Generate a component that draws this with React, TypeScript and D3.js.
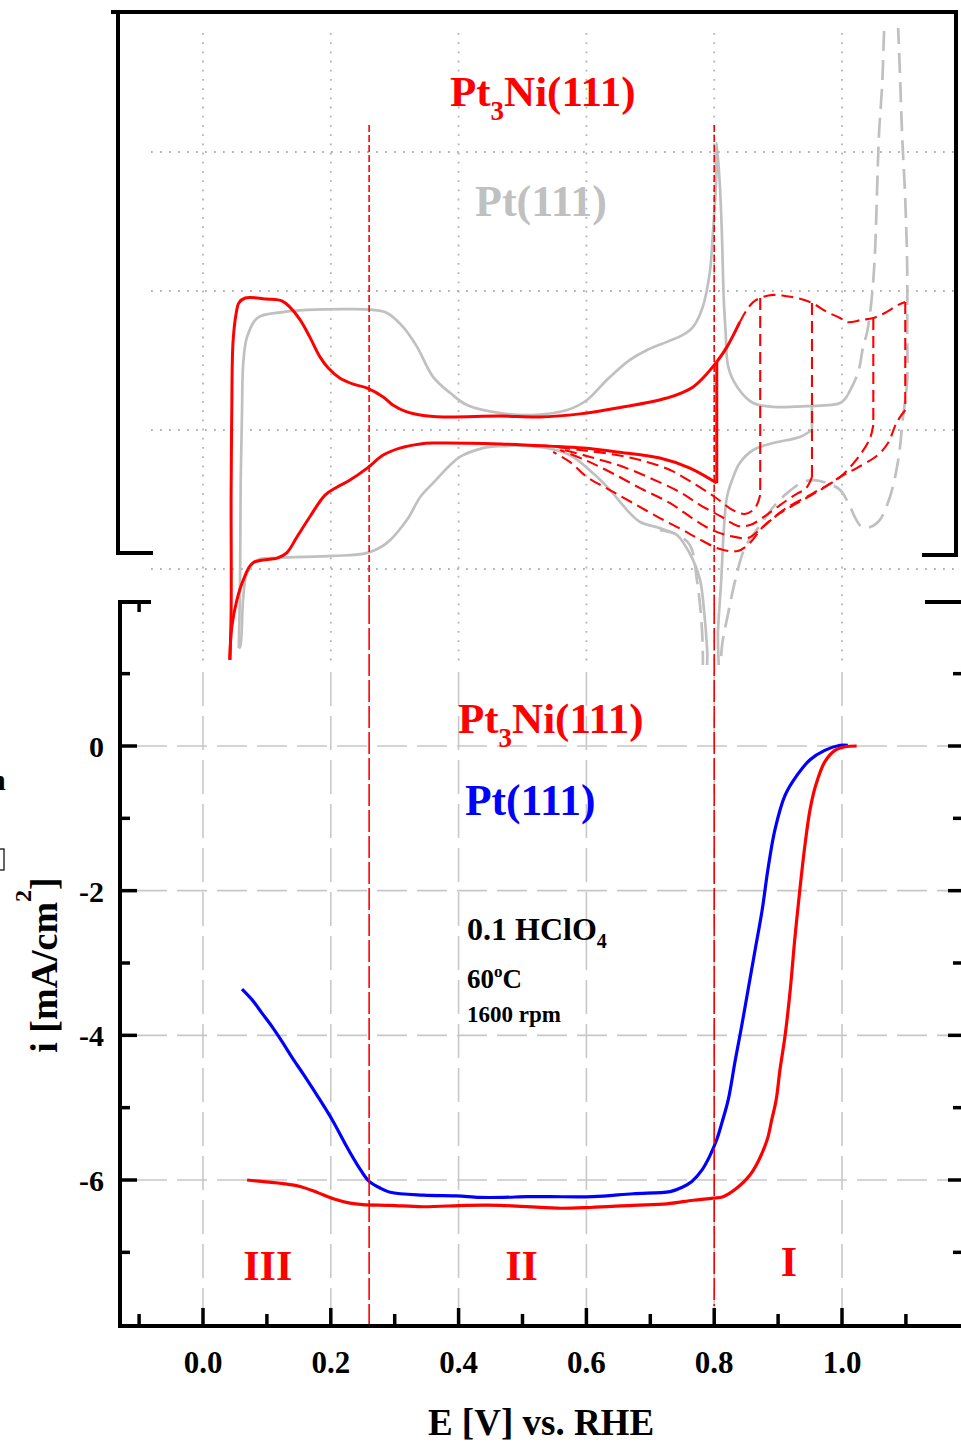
import React from 'react';
import * as d3 from 'd3';

type P = [number, number];

// ---------- axis / grid values ----------
const xMajor = [0, 0.2, 0.4, 0.6, 0.8, 1.0];
const xMinor = [-0.1, 0.1, 0.3, 0.5, 0.7, 0.9, 1.1];
const xTickLabels = ['0.0', '0.2', '0.4', '0.6', '0.8', '1.0'];
const yMajor = [0, -2, -4, -6];
const yMinor = [1, -1, -3, -5, -7];
const yTickLabels = ['0', '-2', '-4', '-6'];
const cvGrid = [100, 50, 0, -50];
const regionLines = [0.26, 0.8];
const regionLabels = ['III', 'II', 'I'];
const regionLabelE = [0.063, 0.473, 0.904];

// ---------- ORR polarisation curves (E [V], i [mA/cm2]) ----------
const ptORR: P[] = [
  [0.061, -3.36], [0.077, -3.51], [0.092, -3.69], [0.108, -3.88], [0.124, -4.09], [0.139, -4.30],
  [0.158, -4.55], [0.180, -4.85], [0.203, -5.18], [0.225, -5.54], [0.243, -5.81], [0.260, -6.02],
  [0.277, -6.11], [0.293, -6.17], [0.345, -6.21], [0.397, -6.22], [0.433, -6.24], [0.470, -6.24],
  [0.507, -6.23], [0.543, -6.23], [0.610, -6.23], [0.673, -6.19], [0.731, -6.16], [0.750, -6.10],
  [0.765, -6.02], [0.781, -5.86], [0.793, -5.67], [0.804, -5.44], [0.812, -5.21], [0.822, -4.89],
  [0.833, -4.34], [0.842, -3.92], [0.853, -3.37], [0.864, -2.82], [0.875, -2.27], [0.884, -1.71],
  [0.895, -1.16], [0.911, -0.68], [0.930, -0.40], [0.950, -0.19], [0.973, -0.06], [0.997, 0.01],
  [1.009, 0.01],
];
const pt3niORR: P[] = [
  [0.069, -6.00], [0.125, -6.05], [0.152, -6.09], [0.178, -6.17], [0.204, -6.26], [0.230, -6.32],
  [0.250, -6.34], [0.293, -6.35], [0.344, -6.37], [0.413, -6.35], [0.465, -6.35], [0.554, -6.39],
  [0.606, -6.38], [0.673, -6.35], [0.726, -6.33], [0.767, -6.28], [0.798, -6.25], [0.814, -6.23],
  [0.837, -6.10], [0.856, -5.93], [0.869, -5.74], [0.883, -5.44], [0.890, -5.17], [0.897, -4.89],
  [0.903, -4.47], [0.911, -4.00], [0.919, -3.37], [0.926, -2.68], [0.934, -1.99], [0.942, -1.37],
  [0.950, -0.88], [0.959, -0.54], [0.973, -0.22], [0.989, -0.06], [1.005, -0.01], [1.023, 0.00],
];

// ---------- cyclic voltammograms (E [V], j [a.u.]) ----------
const pt3niCvAnodic: P[] = [
  [0.042, -82.7], [0.044, -65.8], [0.044, -22.7], [0.045, 6.1], [0.047, 31.7], [0.052, 42.1],
  [0.056, 45.7], [0.066, 47.5], [0.100, 47.1], [0.124, 46.4], [0.136, 44.2], [0.152, 39.6],
  [0.167, 33.5], [0.183, 26.3], [0.196, 22.3], [0.214, 18.7], [0.235, 16.5], [0.257, 15.1],
  [0.282, 11.9], [0.297, 9.0], [0.319, 6.5], [0.340, 5.4], [0.376, 4.7], [0.465, 5.0],
  [0.527, 4.7], [0.590, 5.8], [0.648, 7.9], [0.726, 11.5], [0.767, 15.5], [0.804, 24.5],
];
const pt3niCvCathodic: P[] = [
  [0.804, -19.1], [0.762, -13.7], [0.715, -10.1], [0.648, -7.9], [0.595, -6.5], [0.543, -5.8],
  [0.465, -5.0], [0.360, -4.7], [0.340, -5.0], [0.308, -6.5], [0.282, -9.0], [0.257, -13.7],
  [0.230, -18.0], [0.210, -20.5], [0.191, -23.4], [0.167, -31.3], [0.147, -38.5], [0.131, -44.2],
  [0.117, -46.0], [0.078, -47.8], [0.063, -54.0], [0.053, -61.2], [0.045, -70.9], [0.042, -82.7],
];
const pt3niCvExt: P[] = [[0.804, 24.5], [0.820, 29.9], [0.840, 38.8]];
const pt3niCvDashAnodic: P[] = [
  [0.840, 38.8], [0.851, 43.2], [0.861, 46.0], [0.872, 47.5], [0.892, 48.6], [0.911, 48.2],
  [0.930, 47.5], [0.953, 45.7], [0.977, 42.4], [0.997, 40.3], [1.008, 38.8], [1.031, 39.6],
  [1.049, 40.3], [1.067, 42.1], [1.088, 45.0], [1.099, 46.0],
];
const pt3niCvDash1: P[] = [
  [0.872, 47.5], [0.872, -23.4], [0.864, -28.1], [0.848, -30.2], [0.829, -28.8], [0.801, -24.1],
  [0.767, -19.1], [0.731, -14.4], [0.684, -10.8], [0.637, -8.6], [0.590, -7.2], [0.551, -6.1],
];
const pt3niCvDash2: P[] = [
  [0.953, 45.7], [0.953, -16.9], [0.944, -20.9], [0.926, -23.4], [0.903, -27.0], [0.880, -30.9],
  [0.856, -34.2], [0.837, -34.5], [0.809, -30.9], [0.778, -27.0], [0.746, -22.3], [0.700, -17.3],
  [0.653, -12.9], [0.606, -9.7], [0.559, -6.8],
];
const pt3niCvDash3: P[] = [
  [1.049, 40.3], [1.049, 1.8], [1.044, -2.9], [1.028, -9.0], [0.997, -16.9], [0.955, -22.7],
  [0.908, -28.8], [0.876, -34.9], [0.853, -38.8], [0.825, -38.1], [0.797, -36.0], [0.770, -32.4],
  [0.731, -26.3], [0.684, -20.9], [0.637, -15.1], [0.598, -10.8], [0.559, -7.2],
];
const pt3niCvDash4: P[] = [
  [1.099, 46.0], [1.099, 7.2], [1.086, 2.9], [1.072, -4.7], [1.056, -9.0], [1.023, -13.7],
  [0.997, -16.9], [0.966, -21.6], [0.930, -26.3], [0.903, -29.9], [0.876, -34.9], [0.856, -40.6],
  [0.837, -43.5], [0.809, -42.8], [0.773, -38.8], [0.751, -36.0], [0.715, -31.7], [0.673, -26.3],
  [0.637, -21.6], [0.601, -16.9], [0.574, -11.5], [0.548, -7.9],
];
const ptCvAnodic: P[] = [
  [0.056, -78.4], [0.058, -54.0], [0.059, -18.0], [0.061, 6.1], [0.063, 24.1], [0.069, 33.5],
  [0.085, 40.3], [0.125, 42.4], [0.163, 43.2], [0.230, 43.5], [0.266, 43.2], [0.288, 42.1],
  [0.313, 37.1], [0.335, 29.9], [0.360, 19.1], [0.387, 13.3], [0.413, 9.0], [0.465, 6.1],
  [0.516, 5.4], [0.570, 7.2], [0.601, 10.8], [0.632, 18.0], [0.668, 25.2], [0.695, 28.8],
  [0.726, 31.7], [0.751, 34.2], [0.767, 37.1], [0.782, 44.2], [0.793, 56.5], [0.798, 70.9],
  [0.803, 89.9], [0.804, 103.2], [0.809, 87.4], [0.812, 70.9], [0.815, 46.8], [0.818, 34.9],
  [0.822, 22.7], [0.836, 15.5], [0.861, 9.7], [0.892, 8.3], [0.945, 8.6], [0.997, 9.7],
  [1.009, 12.6],
];
const ptCvCathodic: P[] = [
  [0.953, 8.6], [0.953, 0], [0.934, -2.5], [0.892, -4.7], [0.861, -7.2], [0.840, -11.9],
  [0.828, -18.0], [0.820, -24.1], [0.815, -36.0], [0.811, -54.0], [0.806, -71.9], [0.803, -97.1],
  [0.792, -97.1], [0.789, -79.1], [0.784, -64.7], [0.778, -54.0], [0.767, -46.8], [0.754, -41.4],
  [0.742, -37.8], [0.715, -35.3], [0.684, -33.1], [0.668, -29.9], [0.637, -21.6], [0.610, -15.5],
  [0.574, -9.0], [0.527, -6.1], [0.465, -5.8], [0.438, -6.5], [0.402, -9.7], [0.360, -19.1],
  [0.340, -24.1], [0.319, -32.4], [0.288, -40.6], [0.257, -44.2], [0.203, -45.3], [0.117, -46.0],
  [0.085, -46.8], [0.069, -51.4], [0.063, -60.1], [0.058, -78.1], [0.056, -78.4],
];
const ptCvDashed: P[] = [
  [1.009, 12.6], [1.025, 20.5], [1.033, 29.9], [1.039, 34.9], [1.044, 42.1], [1.049, 54.0],
  [1.052, 65.8], [1.055, 87.4], [1.058, 106.8], [1.063, 124.8], [1.066, 143.9], [1.069, 154.7],
  [1.085, 154.7], [1.088, 143.9], [1.094, 106.8], [1.099, 82.7], [1.102, 58.6], [1.102, 34.9],
  [1.102, 18.0], [1.095, 3.6], [1.088, -10.8], [1.075, -24.1], [1.059, -32.4], [1.044, -34.9],
  [1.031, -34.9], [1.020, -31.3], [1.013, -27.7], [0.997, -21.6], [0.977, -19.1], [0.955, -18.0],
  [0.939, -18.7], [0.914, -22.7], [0.895, -27.0], [0.872, -34.2], [0.848, -42.4], [0.833, -54.0],
  [0.822, -65.8], [0.812, -78.1], [0.809, -97.1],
];
const ptCvDashed2: P[] = [
  [0.782, -97.1], [0.782, -78.1], [0.779, -65.8], [0.773, -54.0], [0.762, -41.4], [0.740, -37.4],
  [0.715, -36.0],
];

// ---------- scales ----------
const x = d3.scaleLinear().domain([0, 1]).range([203, 842]);
const yOrr = d3.scaleLinear().domain([0, -6]).range([746, 1180]);
const yCv = d3.scaleLinear().domain([0, 100]).range([430, 152]);

const cvCurve = d3.line<P>().x((d) => x(d[0])).y((d) => yCv(d[1])).curve(d3.curveCatmullRom.alpha(0.5));
const cvStraight = d3.line<P>().x((d) => x(d[0])).y((d) => yCv(d[1]));
const orrLine = d3.line<P>().x((d) => x(d[0])).y((d) => yOrr(d[1])).curve(d3.curveCatmullRom.alpha(0.5));

// a potential reversal (vertical first step) followed by a smooth branch
const reversal = (d: P[]) => (cvStraight(d.slice(0, 2)) || '') + (cvCurve(d.slice(1)) || '');

const RED = '#ff0000';
const GREY = '#c0c0c0';
const BLUE = '#0000ff';
const FONT = '"Liberation Serif", "Times New Roman", serif';

export default function App() {
  const redDashes = [pt3niCvDash1, pt3niCvDash2, pt3niCvDash3, pt3niCvDash4];
  const redTurn: P[] = [pt3niCvAnodic[pt3niCvAnodic.length - 1], pt3niCvCathodic[0]];
  return (
    <svg
      width={961}
      height={1445}
      style={{ position: 'absolute', left: 0, top: 0, background: '#fff' }}
      fontFamily={FONT}
      fontWeight="bold"
    >
      <defs>
        <clipPath id="cvclip">
          <rect x={118} y={28} width={840} height={637} />
        </clipPath>
      </defs>
      <rect x={0} y={0} width={961} height={1445} fill="#fff" />

      {/* ---------- top panel dotted grid ---------- */}
      {xMajor.map((v) => (
        <line key={'tv' + v} x1={x(v)} x2={x(v)} y1={33} y2={665} stroke="#b4b4b4" strokeWidth={1.8} strokeDasharray="1.8,7.4" />
      ))}
      {cvGrid.map((v) => (
        <line key={'th' + v} x1={151} x2={961} y1={yCv(v)} y2={yCv(v)} stroke="#b4b4b4" strokeWidth={1.8} strokeDasharray="1.8,7.2" />
      ))}

      {/* ---------- bottom panel dashed grid ---------- */}
      {xMajor.map((v) => (
        <line key={'bv' + v} x1={x(v)} x2={x(v)} y1={672} y2={1310} stroke="#c8c8c8" strokeWidth={1.6} strokeDasharray="34,10" />
      ))}
      {yMajor.map((v) => (
        <line key={'bh' + v} x1={137} x2={961} y1={yOrr(v)} y2={yOrr(v)} stroke="#c8c8c8" strokeWidth={1.6} strokeDasharray="30,10" />
      ))}

      {/* ---------- CVs ---------- */}
      <g clipPath="url(#cvclip)" fill="none" strokeLinejoin="round">
        <path d={cvCurve(ptCvAnodic) || ''} stroke={GREY} strokeWidth={2.7} />
        <path d={reversal(ptCvCathodic)} stroke={GREY} strokeWidth={2.7} />
        <path d={cvCurve(ptCvDashed) || ''} stroke={GREY} strokeWidth={2.7} strokeDasharray="20,9" />
        <path d={cvCurve(ptCvDashed2) || ''} stroke={GREY} strokeWidth={2.7} strokeDasharray="20,9" />
        {redDashes.map((d, i) => (
          <path key={'rd' + i} d={reversal(d)} stroke={RED} strokeWidth={2.1} strokeDasharray="12,6" />
        ))}
        <path d={cvCurve(pt3niCvDashAnodic) || ''} stroke={RED} strokeWidth={2.1} strokeDasharray="12,6" />
        <path d={cvCurve(pt3niCvAnodic) || ''} stroke={RED} strokeWidth={3} />
        <path d={cvStraight(redTurn) || ''} stroke={RED} strokeWidth={3} />
        <path d={cvCurve(pt3niCvCathodic) || ''} stroke={RED} strokeWidth={3} />
        <path d={cvCurve(pt3niCvExt) || ''} stroke={RED} strokeWidth={3} />
      </g>

      {/* ---------- ORR curves ---------- */}
      <path d={orrLine(ptORR) || ''} fill="none" stroke={BLUE} strokeWidth={3.2} />
      <path d={orrLine(pt3niORR) || ''} fill="none" stroke={RED} strokeWidth={3.2} />

      {/* ---------- region separators ---------- */}
      {regionLines.map((v, i) => (
        <g key={'rl' + v}>
          <line x1={x(v)} x2={x(v)} y1={125} y2={602} stroke={RED} strokeWidth={1.6} strokeDasharray="7,3" />
          <line x1={x(v)} x2={x(v)} y1={602} y2={i === 0 ? 1326 : 1306} stroke={RED} strokeWidth={1.6} strokeDasharray="22,4" />
        </g>
      ))}

      {/* ---------- top panel frame ---------- */}
      <g stroke="#000" strokeWidth={4} fill="none">
        <line x1={111} x2={958} y1={12} y2={12} />
        <line x1={118} x2={118} y1={10} y2={555} />
        <line x1={116} x2={153} y1={553} y2={553} />
        <line x1={956} x2={956} y1={10} y2={557} />
        <line x1={922} x2={958} y1={555} y2={555} />
      </g>

      {/* ---------- bottom panel axes ---------- */}
      <g stroke="#000" fill="none">
        <line x1={120} x2={120} y1={600} y2={1328} strokeWidth={4} />
        <line x1={118} x2={151} y1={602} y2={602} strokeWidth={4} />
        <line x1={x(-0.1)} x2={x(-0.1)} y1={602} y2={612} strokeWidth={3.5} />
        <line x1={925} x2={961} y1={602} y2={602} strokeWidth={4} />
        <line x1={118} x2={961} y1={1326} y2={1326} strokeWidth={4} />
        {xMajor.map((v) => (
          <line key={'xM' + v} x1={x(v)} x2={x(v)} y1={1326} y2={1308} strokeWidth={3.5} />
        ))}
        {xMinor.map((v) => (
          <line key={'xm' + v} x1={x(v)} x2={x(v)} y1={1326} y2={1314} strokeWidth={3.5} />
        ))}
        {yMajor.map((v) => (
          <g key={'yM' + v}>
            <line x1={120} x2={137} y1={yOrr(v)} y2={yOrr(v)} strokeWidth={3.5} />
            <line x1={948} x2={961} y1={yOrr(v)} y2={yOrr(v)} strokeWidth={3.5} />
          </g>
        ))}
        {yMinor.map((v) => (
          <g key={'ym' + v}>
            <line x1={120} x2={130} y1={yOrr(v)} y2={yOrr(v)} strokeWidth={3.5} />
            <line x1={953} x2={961} y1={yOrr(v)} y2={yOrr(v)} strokeWidth={3.5} />
          </g>
        ))}
      </g>

      {/* tick labels */}
      {xMajor.map((v, i) => (
        <text key={'xl' + v} x={x(v)} y={1373} fontSize={31} textAnchor="middle" fill="#000">
          {xTickLabels[i]}
        </text>
      ))}
      {yMajor.map((v, i) => (
        <text key={'yl' + v} x={104} y={yOrr(v) + 11} fontSize={30} textAnchor="end" fill="#000">
          {yTickLabels[i]}
        </text>
      ))}

      {/* axis titles */}
      <text x={541} y={1435} fontSize={37} textAnchor="middle" fill="#000">
        E [V] vs. RHE
      </text>
      <text transform="translate(57,965) rotate(-90)" fontSize={38} textAnchor="middle" fill="#000">
        i [mA/cm<tspan fontSize={24} dy={-26}>2</tspan>
        <tspan dy={26}>]</tspan>
      </text>

      {/* cut-off remnants at the left edge */}
      <text x={-11} y={790} fontSize={30} fill="#000">n</text>
      <rect x={-6} y={849} width={10} height={21} fill="none" stroke="#000" strokeWidth={1.2} />

      {/* top panel labels */}
      <text x={450} y={106} fontSize={43} fill={RED}>
        Pt<tspan fontSize={27} dy={14}>3</tspan>
        <tspan dy={-14}>Ni(111)</tspan>
      </text>
      <text x={475} y={216} fontSize={44} fill={GREY}>
        Pt(111)
      </text>

      {/* bottom panel labels */}
      <text x={458} y={733} fontSize={43} fill={RED}>
        Pt<tspan fontSize={27} dy={14}>3</tspan>
        <tspan dy={-14}>Ni(111)</tspan>
      </text>
      <text x={465} y={815} fontSize={43.5} fill={BLUE}>
        Pt(111)
      </text>
      <text x={467} y={940} fontSize={32} fill="#000">
        0.1 HClO<tspan fontSize={20} dy={8}>4</tspan>
      </text>
      <text x={467} y={988} fontSize={27} fill="#000">
        60<tspan fontSize={17} dy={-11}>o</tspan>
        <tspan dy={11}>C</tspan>
      </text>
      <text x={467} y={1022} fontSize={23} fill="#000">
        1600 rpm
      </text>

      {regionLabels.map((t, i) => (
        <text key={'rg' + t} x={x(regionLabelE[i])} y={i === 2 ? 1276 : 1280} fontSize={42} fill={RED}>
          {t}
        </text>
      ))}
    </svg>
  );
}
